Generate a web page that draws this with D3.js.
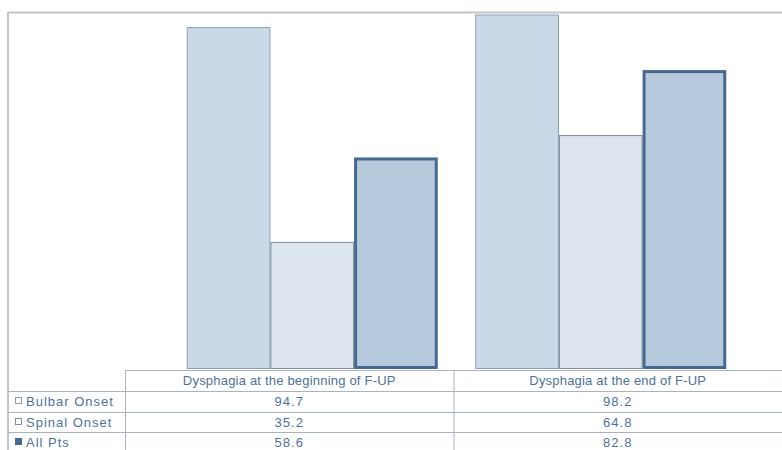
<!DOCTYPE html>
<html><head><meta charset="utf-8">
<script src="https://cdn.jsdelivr.net/npm/d3@7"></script>
<style>body{margin:0;background:#fff}svg{display:block}</style>
</head><body>
<script>
const categories = ["Dysphagia at the beginning of F-UP", "Dysphagia at the end of F-UP"];
const seriesNames = ["Bulbar Onset", "Spinal Onset", "All Pts"];
const bulbar = [94.7, 98.2];
const spinal = [35.2, 64.8];
const allPts = [58.6, 82.8];
const valueLabels = [["94.7","98.2"],["35.2","64.8"],["58.6","82.8"]];

const W = 782, H = 450;
const series = [bulbar, spinal, allPts];
const fills = ["#c9d9e7", "#dde5ee", "#b6cadd"];
const strokes = ["#8c9fb4", "#7f8c9c", "#46698f"];
const sw = [1, 1, 3];

const svg = d3.select("body").append("svg").attr("width", W).attr("height", H);

// frame
svg.append("line").attr("x1",8).attr("x2",W).attr("y1",12.5).attr("y2",12.5).attr("stroke","#c4c4c4").attr("stroke-width",2);
svg.append("line").attr("x1",8).attr("x2",8).attr("y1",12).attr("y2",H).attr("stroke","#c4c4c4").attr("stroke-width",2);

const y = d3.scaleLinear().domain([0,100]).range([369, 8]);
const x0 = d3.scaleBand().domain(categories).range([168, 745]).padding(0);
const x1 = d3.scaleBand().domain(seriesNames).range([0, x0.bandwidth()]).paddingInner(0).paddingOuter(0.224);

const g = svg.append("g");
seriesNames.forEach((s, si) => {
  g.selectAll(null).data(categories).enter().append("rect")
    .attr("x", c => x0(c) + x1(s) + sw[si]/2)
    .attr("width", x1.bandwidth() - sw[si])
    .attr("y", (c, i) => y(series[si][i]) + sw[si]/2)
    .attr("height", (c, i) => y(0) - y(series[si][i]) - sw[si])
    .attr("fill", fills[si]).attr("stroke", strokes[si]).attr("stroke-width", sw[si]);
});

// data table
const tx = d3.scaleBand().domain(categories).range([125, W]);
const rowY = [370, 391, 412, 432, 453];
const lineCol = "#a9b3bf";
const tbl = svg.append("g").attr("font-family","Liberation Sans, Arial, sans-serif").attr("font-size",13);
tbl.append("line").attr("x1",125).attr("x2",W).attr("y1",rowY[0]+0.5).attr("y2",rowY[0]+0.5).attr("stroke",lineCol);
[1,2,3].forEach(r => tbl.append("line").attr("x1",8).attr("x2",W).attr("y1",rowY[r]+0.5).attr("y2",rowY[r]+0.5).attr("stroke",lineCol));
tbl.append("line").attr("x1",125.5).attr("x2",125.5).attr("y1",rowY[0]).attr("y2",H).attr("stroke",lineCol);
tbl.append("line").attr("x1",tx(categories[1])+0.5).attr("x2",tx(categories[1])+0.5).attr("y1",rowY[0]).attr("y2",H).attr("stroke",lineCol);

const textCol = "#4f719b";
categories.forEach(c => {
  tbl.append("text").attr("x", tx(c) + tx.bandwidth()/2).attr("y", rowY[0] + 15)
    .attr("text-anchor","middle").attr("fill",textCol).attr("letter-spacing",0.2).text(c);
});
seriesNames.forEach((s, si) => {
  const yy = rowY[si+1] + 15;
  tbl.append("rect").attr("x",15.5).attr("y",yy-8.5).attr("width",6).attr("height",6)
    .attr("fill", si===2 ? "#46698f" : "#ffffff").attr("stroke", strokes[si]);
  tbl.append("text").attr("x",26).attr("y",yy).attr("fill",textCol).attr("letter-spacing",1).text(s);
  categories.forEach((c, ci) => {
    tbl.append("text").attr("x", tx(c) + tx.bandwidth()/2).attr("y", yy)
      .attr("text-anchor","middle").attr("fill",textCol).attr("letter-spacing",1).text(valueLabels[si][ci]);
  });
});
</script>
</body></html>
